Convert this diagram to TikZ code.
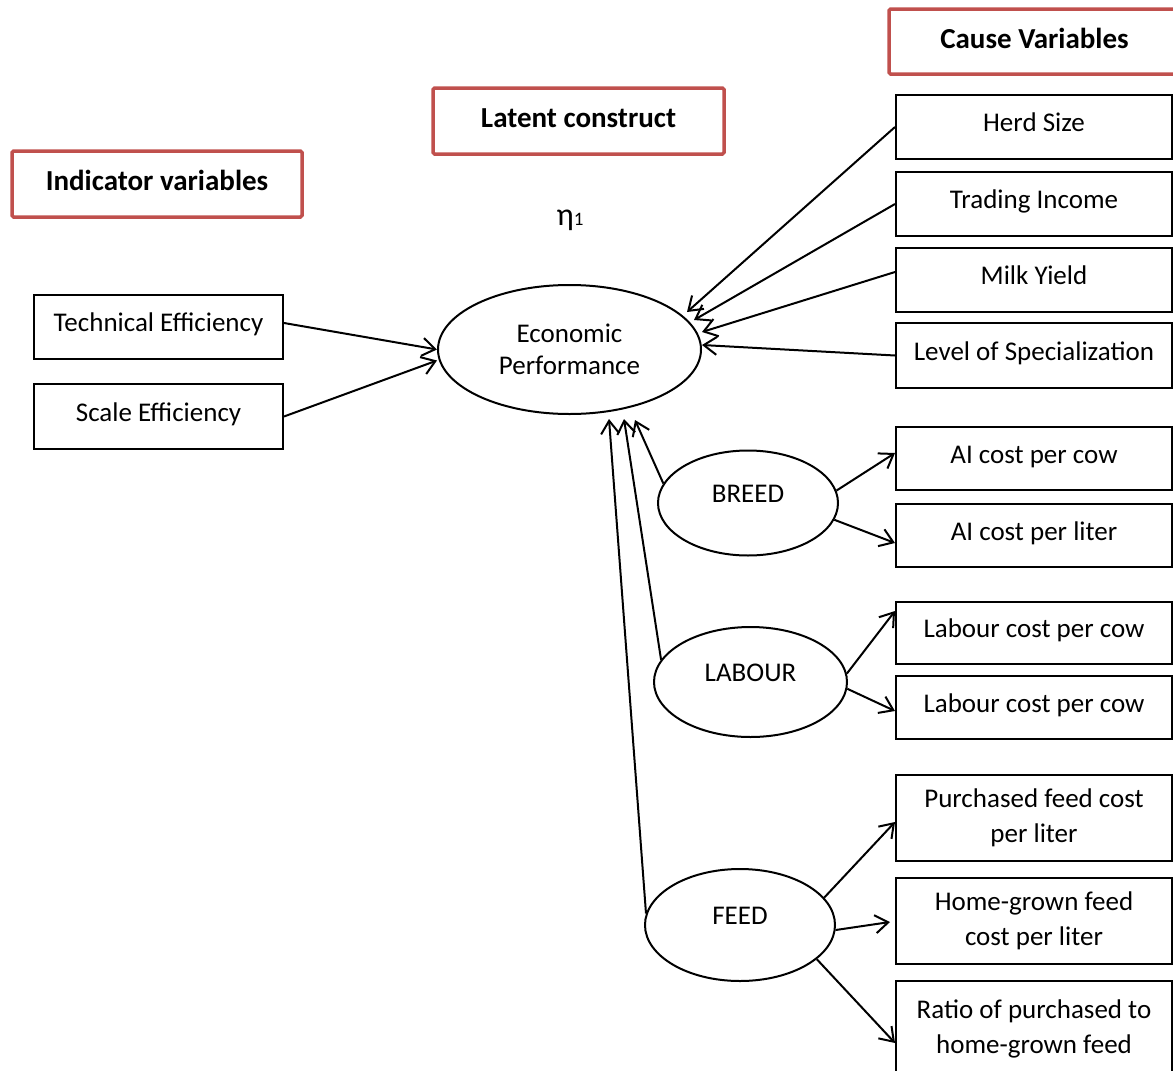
\documentclass[tikz,border=0pt]{standalone}
\usepackage{fontspec}
\setmainfont{Carlito}
\usetikzlibrary{shapes.geometric,arrows.meta}
\definecolor{hdrred}{HTML}{C0504D}
\begin{document}
\begin{tikzpicture}[x=1pt,y=-1pt,
  font=\fontsize{27}{32}\selectfont,
  box/.style={draw, line width=2pt, minimum width=276pt, minimum height=64pt, inner sep=0pt, text height=19pt, text depth=10pt},
  lbox/.style={box, minimum width=249pt},
  box2/.style={draw, line width=2pt, minimum width=276pt, minimum height=86pt, inner sep=0pt, align=center, font=\fontsize{27}{35}\selectfont},
  hdr/.style={draw=hdrred, line width=3.5pt, rounded corners=1.5pt, minimum width=290pt, minimum height=65pt, inner sep=0pt, font=\fontsize{29}{32}\selectfont\bfseries, text height=20pt, text depth=7pt},
  ell/.style={ellipse, draw, line width=2pt, inner sep=0pt},
  sell/.style={ell, text height=19pt, text depth=21pt},
  arr/.style={line width=2pt, -{Straight Barb[length=13pt,width=18pt,line width=2pt]}}
]
\useasboundingbox (0,0) rectangle (1173,1071);

% headers
\node[hdr, minimum width=291pt] (cause) at (1034.5,41.5) {Cause Variables};
\node[hdr, minimum width=291pt, minimum height=66pt] (latent) at (578.5,121) {Latent construct};
\node[hdr, minimum width=290pt, minimum height=66pt] (indic) at (157,184) {Indicator variables};

\node (eta) at (570,220) {{\fontsize{32}{36}\selectfont η}{\fontsize{19}{22}\selectfont 1}};

% latent construct
\node[ell, minimum width=263pt, minimum height=129pt, align=center] (ep) at (569.5,349.5) {Economic\\Performance};

% indicators
\node[lbox] (tech) at (158.5,327) {Technical Efficiency};
\node[lbox, minimum height=65pt] (scale) at (158.5,416.5) {Scale Efficiency};

% causes
\node[box] (herd) at (1034,127) {Herd Size};
\node[box] (trade) at (1034,204) {Trading Income};
\node[box] (milk) at (1034,280) {Milk Yield};
\node[box, minimum height=65pt] (level) at (1034,355.5) {Level of Specialization};
\node[box, minimum height=63pt] (ai1) at (1034,458.5) {AI cost per cow};
\node[box, minimum height=63pt] (ai2) at (1034,535.5) {AI cost per liter};
\node[box, minimum height=62pt] (lab1) at (1034,633) {Labour cost per cow};
\node[box, minimum height=63pt] (lab2) at (1034,707.5) {Labour cost per cow};
\node[box2] (purch) at (1034,818) {Purchased feed cost\\per liter};
\node[box2] (home) at (1034,921) {Home-grown feed\\cost per liter};
\node[box2, minimum height=96pt] (ratio) at (1034,1029) {Ratio of purchased to\\home-grown feed};

% sub-constructs
\node[sell, minimum width=180pt, minimum height=105pt] (breed) at (748,503) {BREED};
\node[sell, minimum width=193pt, minimum height=110pt] (labour) at (750.5,682) {LABOUR};
\node[sell, minimum width=190pt, minimum height=112pt] (feed) at (740,925) {FEED};

% indicator arrows
\draw[arr] ([yshift=4pt]tech.east) -- (ep.west);
\draw[arr] (scale.east) -- ([yshift=-11pt]ep.west);

% cause arrows
\draw[arr] (herd.west) -- ([xshift=117.5pt,yshift=37.5pt]ep.center);
\draw[arr] (trade.west) -- ([xshift=124.5pt,yshift=29.5pt]ep.center);
\draw[arr] ([yshift=8pt]milk.west) -- ([xshift=132.5pt,yshift=17.5pt]ep.center);
\draw[arr] (level.west) -- ([xshift=132.5pt,yshift=4.5pt]ep.center);

% sub-construct arrows into ep
\draw[arr] (breed.167) -- ([xshift=65.5pt,yshift=-70.5pt]ep.center);
\draw[arr] (labour.166) -- ([xshift=54.5pt,yshift=-69.5pt]ep.center);
\draw[arr] (feed.173) -- ([xshift=39.5pt,yshift=-69.5pt]ep.center);

% sub-construct arrows out
\draw[arr] (breed.8) -- ([yshift=5.5pt]ai1.west);
\draw[arr] (breed.-11) -- ([yshift=-7.5pt]ai2.west);
\draw[arr] (labour.5) -- ([yshift=22pt]lab1.west);
\draw[arr] (labour.-4) -- ([yshift=-3.5pt]lab2.west);
\draw[arr] (feed.18) -- ([yshift=-4pt]purch.west);
\draw[arr] (feed.-3) -- ([xshift=-5pt,yshift=-1pt]home.west);
\draw[arr] (feed.-24) -- ([yshift=-14pt]ratio.west);
\end{tikzpicture}
\end{document}
